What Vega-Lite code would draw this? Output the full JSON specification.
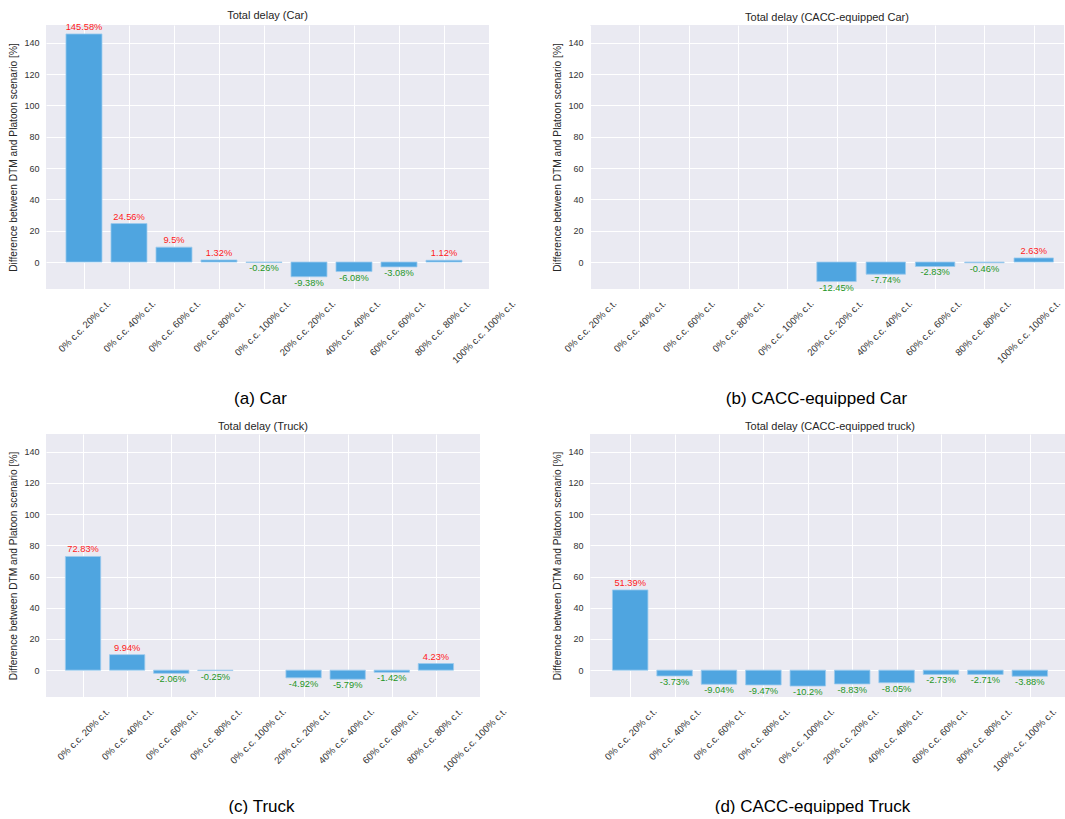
{
  "$schema": "https://vega.github.io/schema/vega-lite/v6.json",
  "background": "white",
  "padding": {"left": 8, "top": 9, "right": 0, "bottom": 0},
  "datasets": {
    "delay": [
      {"panel": "Car", "scenario": "0% c.c. 20% c.t.", "value": 145.58},
      {"panel": "Car", "scenario": "0% c.c. 40% c.t.", "value": 24.56},
      {"panel": "Car", "scenario": "0% c.c. 60% c.t.", "value": 9.5},
      {"panel": "Car", "scenario": "0% c.c. 80% c.t.", "value": 1.32},
      {"panel": "Car", "scenario": "0% c.c. 100% c.t.", "value": -0.26},
      {"panel": "Car", "scenario": "20% c.c. 20% c.t.", "value": -9.38},
      {"panel": "Car", "scenario": "40% c.c. 40% c.t.", "value": -6.08},
      {"panel": "Car", "scenario": "60% c.c. 60% c.t.", "value": -3.08},
      {"panel": "Car", "scenario": "80% c.c. 80% c.t.", "value": 1.12},
      {"panel": "CACC Car", "scenario": "20% c.c. 20% c.t.", "value": -12.45},
      {"panel": "CACC Car", "scenario": "40% c.c. 40% c.t.", "value": -7.74},
      {"panel": "CACC Car", "scenario": "60% c.c. 60% c.t.", "value": -2.83},
      {"panel": "CACC Car", "scenario": "80% c.c. 80% c.t.", "value": -0.46},
      {"panel": "CACC Car", "scenario": "100% c.c. 100% c.t.", "value": 2.63},
      {"panel": "Truck", "scenario": "0% c.c. 20% c.t.", "value": 72.83},
      {"panel": "Truck", "scenario": "0% c.c. 40% c.t.", "value": 9.94},
      {"panel": "Truck", "scenario": "0% c.c. 60% c.t.", "value": -2.06},
      {"panel": "Truck", "scenario": "0% c.c. 80% c.t.", "value": -0.25},
      {"panel": "Truck", "scenario": "20% c.c. 20% c.t.", "value": -4.92},
      {"panel": "Truck", "scenario": "40% c.c. 40% c.t.", "value": -5.79},
      {"panel": "Truck", "scenario": "60% c.c. 60% c.t.", "value": -1.42},
      {"panel": "Truck", "scenario": "80% c.c. 80% c.t.", "value": 4.23},
      {"panel": "CACC Truck", "scenario": "0% c.c. 20% c.t.", "value": 51.39},
      {"panel": "CACC Truck", "scenario": "0% c.c. 40% c.t.", "value": -3.73},
      {"panel": "CACC Truck", "scenario": "0% c.c. 60% c.t.", "value": -9.04},
      {"panel": "CACC Truck", "scenario": "0% c.c. 80% c.t.", "value": -9.47},
      {"panel": "CACC Truck", "scenario": "0% c.c. 100% c.t.", "value": -10.2},
      {"panel": "CACC Truck", "scenario": "20% c.c. 20% c.t.", "value": -8.83},
      {"panel": "CACC Truck", "scenario": "40% c.c. 40% c.t.", "value": -8.05},
      {"panel": "CACC Truck", "scenario": "60% c.c. 60% c.t.", "value": -2.73},
      {"panel": "CACC Truck", "scenario": "80% c.c. 80% c.t.", "value": -2.71},
      {"panel": "CACC Truck", "scenario": "100% c.c. 100% c.t.", "value": -3.88}
    ]
  },
  "columns": 2,
  "spacing": {"row": 145, "column": 101},
  "bounds": "flush",
  "concat": [
    {
      "width": 443, "height": 264,
      "title": "Total delay (Car)",
      "data": {"name": "delay"},
      "transform": [{"filter": "datum.panel === 'Car'"}, {"calculate": "datum.value + '%'", "as": "label"}],
      "encoding": {
        "x": {"field": "scenario", "type": "nominal", "sort": null,
              "scale": {"type": "point", "domain": ["0% c.c. 20% c.t.", "0% c.c. 40% c.t.", "0% c.c. 60% c.t.", "0% c.c. 80% c.t.", "0% c.c. 100% c.t.", "20% c.c. 20% c.t.", "40% c.c. 40% c.t.", "60% c.c. 60% c.t.", "80% c.c. 80% c.t.", "100% c.c. 100% c.t."], "padding": 0.422, "align": 1},
              "axis": {"title": "(a) Car", "titleX": 214}},
        "y": {"field": "value", "type": "quantitative", "scale": {"domain": [-17.2, 151.3], "nice": false, "zero": false},
              "axis": {"title": "Difference between DTM and Platoon scenario [%]", "values": [0, 20, 40, 60, 80, 100, 120, 140]}}
      },
      "layer": [
        {"mark": {"type": "bar", "size": 36, "color": "#4fa5e0", "stroke": "#9ccaee", "strokeWidth": 0.8}},
        {"data": {"values": [{}]}, "mark": {"type": "rule", "color": "#c9c9d0", "strokeWidth": 1.6}, "encoding": {"x": null, "y": {"datum": 0}}},
        {"transform": [{"filter": "datum.value > 0"}], "mark": {"type": "text", "color": "#ff1a1a", "baseline": "bottom", "dy": -2, "fontSize": 9.3, "font": "Liberation Sans"}, "encoding": {"text": {"field": "label"}}},
        {"transform": [{"filter": "datum.value <= 0"}], "mark": {"type": "text", "color": "#1f961f", "baseline": "top", "dy": 2, "fontSize": 9.3, "font": "Liberation Sans"}, "encoding": {"text": {"field": "label"}}}
      ]
    },
    {
      "width": 474, "height": 264,
      "title": "Total delay (CACC-equipped Car)",
      "data": {"name": "delay"},
      "transform": [{"filter": "datum.panel === 'CACC Car'"}, {"calculate": "datum.value + '%'", "as": "label"}],
      "encoding": {
        "x": {"field": "scenario", "type": "nominal", "sort": null,
              "scale": {"type": "point", "domain": ["0% c.c. 20% c.t.", "0% c.c. 40% c.t.", "0% c.c. 60% c.t.", "0% c.c. 80% c.t.", "0% c.c. 100% c.t.", "20% c.c. 20% c.t.", "40% c.c. 40% c.t.", "60% c.c. 60% c.t.", "80% c.c. 80% c.t.", "100% c.c. 100% c.t."], "padding": 0.307, "align": 0},
              "axis": {"title": "(b) CACC-equipped Car", "titleX": 226}},
        "y": {"field": "value", "type": "quantitative", "scale": {"domain": [-17.2, 151.3], "nice": false, "zero": false},
              "axis": {"title": "Difference between DTM and Platoon scenario [%]", "values": [0, 20, 40, 60, 80, 100, 120, 140]}}
      },
      "layer": [
        {"mark": {"type": "bar", "size": 39.4, "color": "#4fa5e0", "stroke": "#9ccaee", "strokeWidth": 0.8}},
        {"data": {"values": [{}]}, "mark": {"type": "rule", "color": "#c9c9d0", "strokeWidth": 1.6}, "encoding": {"x": null, "y": {"datum": 0}}},
        {"transform": [{"filter": "datum.value > 0"}], "mark": {"type": "text", "color": "#ff1a1a", "baseline": "bottom", "dy": -2, "fontSize": 9.3, "font": "Liberation Sans"}, "encoding": {"text": {"field": "label"}}},
        {"transform": [{"filter": "datum.value <= 0"}], "mark": {"type": "text", "color": "#1f961f", "baseline": "top", "dy": 2, "fontSize": 9.3, "font": "Liberation Sans"}, "encoding": {"text": {"field": "label"}}}
      ]
    },
    {
      "width": 434, "height": 263,
      "title": "Total delay (Truck)",
      "data": {"name": "delay"},
      "transform": [{"filter": "datum.panel === 'Truck'"}, {"calculate": "datum.value + '%'", "as": "label"}],
      "encoding": {
        "x": {"field": "scenario", "type": "nominal", "sort": null,
              "scale": {"type": "point", "domain": ["0% c.c. 20% c.t.", "0% c.c. 40% c.t.", "0% c.c. 60% c.t.", "0% c.c. 80% c.t.", "0% c.c. 100% c.t.", "20% c.c. 20% c.t.", "40% c.c. 40% c.t.", "60% c.c. 60% c.t.", "80% c.c. 80% c.t.", "100% c.c. 100% c.t."], "padding": 0.42, "align": 1},
              "axis": {"title": "(c) Truck", "titleX": 215}},
        "y": {"field": "value", "type": "quantitative", "scale": {"domain": [-17.2, 151.3], "nice": false, "zero": false},
              "axis": {"title": "Difference between DTM and Platoon scenario [%]", "values": [0, 20, 40, 60, 80, 100, 120, 140]}}
      },
      "layer": [
        {"mark": {"type": "bar", "size": 35.3, "color": "#4fa5e0", "stroke": "#9ccaee", "strokeWidth": 0.8}},
        {"data": {"values": [{}]}, "mark": {"type": "rule", "color": "#c9c9d0", "strokeWidth": 1.6}, "encoding": {"x": null, "y": {"datum": 0}}},
        {"transform": [{"filter": "datum.value > 0"}], "mark": {"type": "text", "color": "#ff1a1a", "baseline": "bottom", "dy": -2, "fontSize": 9.3, "font": "Liberation Sans"}, "encoding": {"text": {"field": "label"}}},
        {"transform": [{"filter": "datum.value <= 0"}], "mark": {"type": "text", "color": "#1f961f", "baseline": "top", "dy": 2, "fontSize": 9.3, "font": "Liberation Sans"}, "encoding": {"text": {"field": "label"}}}
      ]
    },
    {
      "width": 480, "height": 263,
      "title": "Total delay (CACC-equipped truck)",
      "data": {"name": "delay"},
      "transform": [{"filter": "datum.panel === 'CACC Truck'"}, {"calculate": "datum.value + '%'", "as": "label"}],
      "encoding": {
        "x": {"field": "scenario", "type": "nominal", "sort": null,
              "scale": {"type": "point", "domain": ["0% c.c. 20% c.t.", "0% c.c. 40% c.t.", "0% c.c. 60% c.t.", "0% c.c. 80% c.t.", "0% c.c. 100% c.t.", "20% c.c. 20% c.t.", "40% c.c. 40% c.t.", "60% c.c. 60% c.t.", "80% c.c. 80% c.t.", "100% c.c. 100% c.t."], "padding": 0.905, "align": 0.5},
              "axis": {"title": "(d) CACC-equipped Truck", "titleX": 222}},
        "y": {"field": "value", "type": "quantitative", "scale": {"domain": [-17.2, 151.3], "nice": false, "zero": false},
              "axis": {"title": "Difference between DTM and Platoon scenario [%]", "values": [0, 20, 40, 60, 80, 100, 120, 140]}}
      },
      "layer": [
        {"mark": {"type": "bar", "size": 35.5, "color": "#4fa5e0", "stroke": "#9ccaee", "strokeWidth": 0.8}},
        {"data": {"values": [{}]}, "mark": {"type": "rule", "color": "#c9c9d0", "strokeWidth": 1.6}, "encoding": {"x": null, "y": {"datum": 0}}},
        {"transform": [{"filter": "datum.value > 0"}], "mark": {"type": "text", "color": "#ff1a1a", "baseline": "bottom", "dy": -2, "fontSize": 9.3, "font": "Liberation Sans"}, "encoding": {"text": {"field": "label"}}},
        {"transform": [{"filter": "datum.value <= 0"}], "mark": {"type": "text", "color": "#1f961f", "baseline": "top", "dy": 2, "fontSize": 9.3, "font": "Liberation Sans"}, "encoding": {"text": {"field": "label"}}}
      ]
    }
  ],
  "config": {
    "font": "Liberation Sans",
    "view": {"fill": "#eaeaf2", "stroke": null},
    "title": {"fontSize": 11, "fontWeight": "normal", "color": "#262626", "offset": 2, "font": "Liberation Sans"},
    "axis": {"domain": false, "ticks": false, "tickSize": 0, "grid": true, "gridColor": "white", "gridWidth": 1, "gridOpacity": 1,
             "labelColor": "#333333", "labelFontSize": 9, "labelFont": "Liberation Sans",
             "titleFont": "Liberation Sans", "titleFontWeight": "normal", "titleColor": "#262626"},
    "axisY": {"labelPadding": 7, "titleFontSize": 10.2, "titlePadding": 5},
    "axisX": {"labelAngle": -45, "labelAlign": "right", "labelBaseline": "top", "labelPadding": 9, "labelOffset": 21, "labelFontSize": 9.6,
              "titleFontSize": 17, "titleColor": "#000000", "titlePadding": 31, "minExtent": 70, "maxExtent": 70, "labelOverlap": false}
  }
}
